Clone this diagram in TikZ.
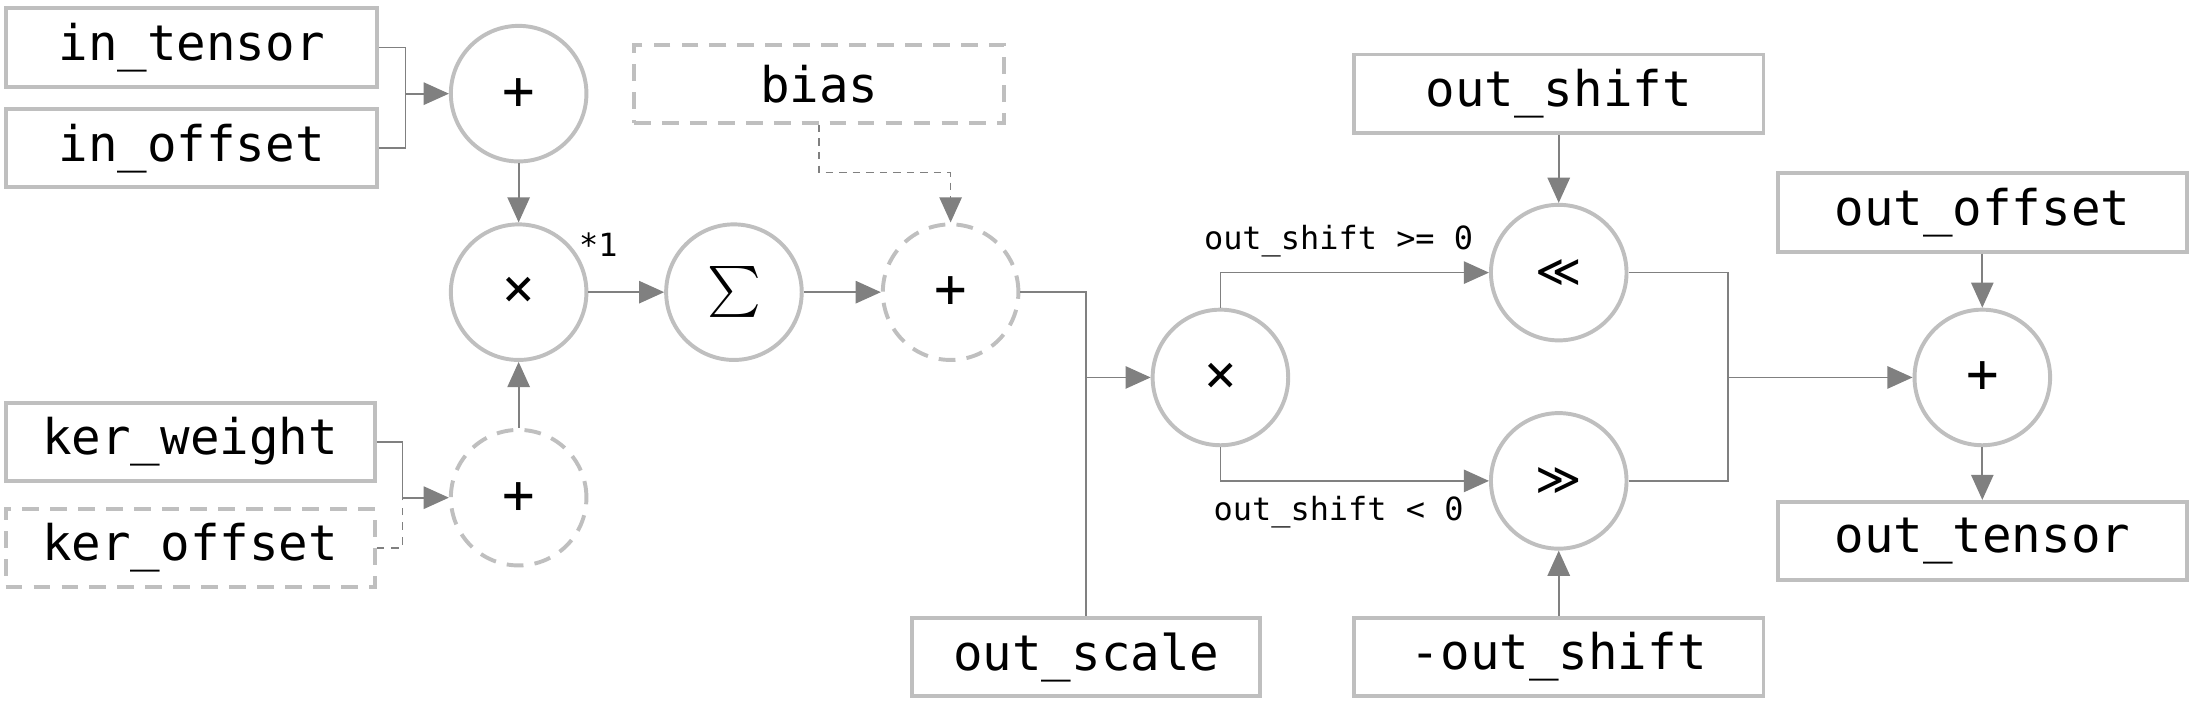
\documentclass[tikz,border=0pt]{standalone}
\usepackage{amsmath}
\usepackage{fontspec}
\setmonofont{DejaVu Sans Mono}
\newfontfamily\simboli{DejaVu Sans}
\usetikzlibrary{arrows.meta,calc}
\definecolor{bordo}{HTML}{BFBFBF}
\definecolor{filo}{HTML}{808080}
\tikzset{
>={Triangle[length=0.36cm,width=0.32cm]},
dato/.style={draw=bordo,line width=1.6pt,minimum height=1.12cm,inner sep=0pt,font=\ttfamily\fontsize{20}{24}\selectfont},
dato opz/.style={dato,dash pattern=on 0.24cm off 0.16cm},
op/.style={circle,draw=bordo,line width=1.6pt,minimum size=1.94cm,inner sep=0pt,font=\ttfamily\fontsize{22}{26}\selectfont},
op opz/.style={op,dash pattern=on 0.24cm off 0.16cm},
linea/.style={filo,line width=0.7pt},
collega/.style={linea,->},
etichetta/.style={text=black,font=\ttfamily\fontsize{13}{15}\selectfont,inner sep=2pt}}

\begin{document}
\begin{tikzpicture}[x=0.02cm,y=-0.02cm]

\useasboundingbox (0,0) rectangle (1568,513);

% ingressi
\node[dato,minimum width=5.32cm] (in_tensor) at (137,34) {in\_tensor};
\node[dato,minimum width=5.32cm] (in_offset) at (137,106) {in\_offset};
\node[dato,minimum width=5.28cm] (ker_weight) at (136,316) {ker\_weight};
\node[dato opz,minimum width=5.28cm] (ker_offset) at (136,392) {ker\_offset};
\node[dato opz,minimum width=5.3cm] (bias) at (586,60) {bias};
\node[dato,minimum width=4.98cm] (out_scale) at (777,470) {out\_scale};
\node[dato,minimum width=5.86cm] (out_shift) at (1115,67) {out\_shift};
\node[dato,minimum width=5.86cm] (neg_shift) at (1115,470) {-out\_shift};
\node[dato,minimum width=5.86cm] (out_offset) at (1418,152) {out\_offset};
\node[dato,minimum width=5.86cm] (out_tensor) at (1418,387) {out\_tensor};

% operazioni
\node[op] (somma_in) at (371,67) {+};
\node[op] (prodotto) at (371,209) {×};
\node[op opz] (somma_ker) at (371,356) {+};
\node[op] (sigma) at (525,209) {$\sum$};
\node[op opz] (somma_bias) at (680,209) {+};
\node[op] (scala) at (873,270) {×};
\node[op,font=\simboli\fontsize{18}{22}\selectfont] (sinistra) at (1115,195) {≪};
\node[op,font=\simboli\fontsize{18}{22}\selectfont] (destra) at (1115,344) {≫};
\node[op] (somma_out) at (1418,270) {+};

\node[etichetta] (nota) at (428,175) {*1};

% punti di giunzione
\coordinate (j1) at (290,67);
\coordinate (j2) at (288,356);
\coordinate (j3) at (776,270);
\coordinate (j4) at (1236,270);

\draw[linea] (in_tensor.east) -| (j1);
\draw[linea] (in_offset.east) -| (j1);
\draw[collega] (j1) -- (somma_in);
\draw[linea] (ker_weight.east) -| (j2);
\draw[linea,dashed] (ker_offset.east) -| (j2);
\draw[collega] (j2) -- (somma_ker);

\path[collega]
	(somma_in) edge (prodotto)
	(somma_ker) edge (prodotto)
	(prodotto) edge (sigma)
	(sigma) edge (somma_bias)
	(out_shift) edge (sinistra)
	(neg_shift) edge (destra)
	(out_offset) edge (somma_out)
	(somma_out) edge (out_tensor);

\draw[collega,dash pattern=on 3pt off 2.5pt] (bias.south) -- ++(0,34) -| (somma_bias.north);

\draw[linea] (somma_bias.east) -| (out_scale.north);
\draw[collega] (j3) -- (scala);

\draw[collega] (scala.north) |- (sinistra.west)
	node[etichetta,pos=0.72,above=4pt] {out\_shift >= 0};
\draw[collega] (scala.south) |- (destra.west)
	node[etichetta,pos=0.72,below=4pt] {out\_shift < 0};

\draw[linea] (sinistra.east) -| (j4);
\draw[linea] (destra.east) -| (j4);
\draw[collega] (j4) -- (somma_out);
\end{tikzpicture}
\end{document}
